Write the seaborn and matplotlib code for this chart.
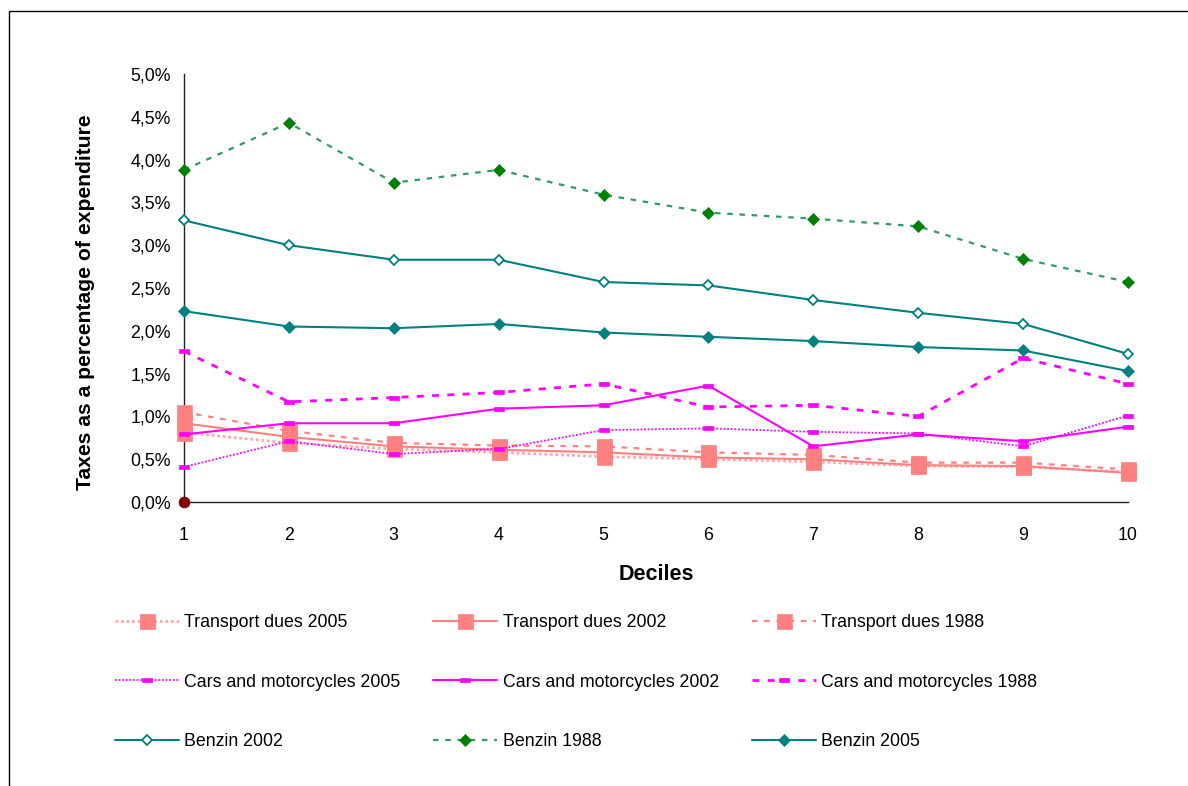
import matplotlib
matplotlib.use("Agg")
import matplotlib.pyplot as plt
from matplotlib.lines import Line2D
from matplotlib.patches import Rectangle
from matplotlib.ticker import FuncFormatter
import seaborn as sns

# Tax burden by expenditure decile (% of household expenditure)
deciles = [1, 2, 3, 4, 5, 6, 7, 8, 9, 10]

transport_2005 = [0.81, 0.69, 0.62, 0.58, 0.53, 0.50, 0.47, 0.42, 0.41, 0.35]
transport_2002 = [0.92, 0.76, 0.65, 0.61, 0.58, 0.52, 0.50, 0.43, 0.42, 0.34]
transport_1988 = [1.05, 0.83, 0.69, 0.66, 0.65, 0.58, 0.55, 0.46, 0.46, 0.38]

cars_2005 = [0.41, 0.71, 0.56, 0.62, 0.84, 0.86, 0.82, 0.80, 0.65, 1.01]
cars_2002 = [0.79, 0.92, 0.92, 1.09, 1.13, 1.36, 0.65, 0.79, 0.71, 0.88]
cars_1988 = [1.76, 1.17, 1.22, 1.28, 1.38, 1.11, 1.13, 1.00, 1.68, 1.38]

benzin_2002 = [3.29, 3.00, 2.83, 2.83, 2.57, 2.53, 2.36, 2.21, 2.08, 1.73]
benzin_1988 = [3.88, 4.43, 3.73, 3.88, 3.59, 3.38, 3.31, 3.22, 2.84, 2.57]
benzin_2005 = [2.23, 2.05, 2.03, 2.08, 1.98, 1.93, 1.88, 1.81, 1.77, 1.53]

origin_x = [1]
origin_y = [0.0]

y_ticks = [0.0, 0.5, 1.0, 1.5, 2.0, 2.5, 3.0, 3.5, 4.0, 4.5, 5.0]

sns.set_theme(style="white")
plt.rcParams["font.family"] = ["Liberation Sans", "DejaVu Sans"]
plt.rcParams["text.color"] = "black"
plt.rcParams["axes.labelcolor"] = "black"

SALMON = "#FF8080"
MAGENTA = "#FF00FF"
TEAL = "#008080"
GREEN = "#008000"
SEA = "#339966"

# short horizontal bar used as the marker for the car series
DASH = [(-1, -0.32), (1, -0.32), (1, 0.32), (-1, 0.32), (-1, -0.32)]

fig = plt.figure(figsize=(11.88, 7.86), dpi=100)
ax = fig.add_axes([184 / 1188, 1 - 502 / 786, 944 / 1188, 428 / 786])

series = [
    # label, values, colour, linestyle, linewidth, marker, size, face, edge
    ("Transport dues 2005", transport_2005, "#FFA8A8", (0, (1, 1)), 2.0, "s", 10.8, SALMON, SALMON),
    ("Transport dues 2002", transport_2002, SALMON, "-", 1.5, "s", 10.8, SALMON, SALMON),
    ("Transport dues 1988", transport_1988, SALMON, (0, (2.5, 3)), 1.6, "s", 10.8, SALMON, SALMON),
    ("Cars and motorcycles 2005", cars_2005, MAGENTA, (0, (1, 1)), 1.3, DASH, 7.2, MAGENTA, MAGENTA),
    ("Cars and motorcycles 2002", cars_2002, MAGENTA, "-", 1.5, DASH, 7.2, MAGENTA, MAGENTA),
    ("Cars and motorcycles 1988", cars_1988, MAGENTA, (0, (2.5, 3)), 2.0, DASH, 7.2, MAGENTA, MAGENTA),
    ("Benzin 2002", benzin_2002, TEAL, "-", 1.5, "D", 5.6, "white", TEAL),
    ("Benzin 1988", benzin_1988, SEA, (0, (2.5, 3)), 1.6, "D", 5.8, GREEN, GREEN),
    ("Benzin 2005", benzin_2005, TEAL, "-", 1.5, "D", 5.8, TEAL, TEAL),
]

handles = {}
for label, vals, col, ls, lw, mk, ms, face, edge in series:
    mew = 1.3 if face == "white" else 0.5
    sns.lineplot(x=deciles, y=vals, ax=ax, color=col, linestyle=ls, linewidth=lw,
                 marker=mk, markersize=ms, markerfacecolor=face,
                 markeredgecolor=edge, markeredgewidth=mew,
                 legend=False, zorder=3, clip_on=False)
    handles[label] = Line2D([], [], color=col, linestyle=ls, linewidth=lw, marker=mk,
                            markersize=ms, markerfacecolor=face, markeredgecolor=edge,
                            markeredgewidth=mew)

sns.scatterplot(x=origin_x, y=origin_y, ax=ax, color="#800000", s=60,
                edgecolor="#800000", zorder=5, clip_on=False, legend=False)

ax.set_xlim(1, 10)
ax.set_ylim(0, 5)
ax.set_xticks(deciles)
ax.set_yticks(y_ticks)
ax.yaxis.set_major_formatter(FuncFormatter(lambda v, p: f"{v:.1f}%".replace(".", ",")))

for side in ("top", "right"):
    ax.spines[side].set_visible(False)
for side in ("left", "bottom"):
    ax.spines[side].set_color("#222222")
    ax.spines[side].set_linewidth(1.0)

ax.tick_params(axis="both", which="major", direction="inout", length=9, width=1,
               color="#222222", labelsize=12.8, labelcolor="black")
ax.tick_params(axis="y", pad=5)
ax.tick_params(axis="x", pad=13.5)

ax.set_xlabel("Deciles", fontsize=15.5, fontweight="bold", color="black")
ax.set_ylabel("Taxes as a percentage of expenditure", fontsize=15.2,
              fontweight="bold", color="black")
ax.xaxis.set_label_coords(0.5, -0.145)
ax.yaxis.set_label_coords(-0.094, 0.468)

# legend laid out row by row: transport, cars, benzin
order = ["Transport dues 2005", "Cars and motorcycles 2005", "Benzin 2002",
         "Transport dues 2002", "Cars and motorcycles 2002", "Benzin 1988",
         "Transport dues 1988", "Cars and motorcycles 1988", "Benzin 2005"]
leg = fig.legend([handles[k] for k in order], order, ncol=3, frameon=False,
                 loc="upper left", bbox_to_anchor=(115 / 1188, 1 - 614 / 786),
                 fontsize=12.8, handlelength=3.6, handletextpad=0.3,
                 columnspacing=1.85, labelspacing=2.4, borderpad=0, borderaxespad=0)
for t in leg.get_texts():
    t.set_color("black")

# outer chart-area border
fig.patches.append(Rectangle((9 / 1188, -0.05), 1.2, 1.05 - 11 / 786,
                             transform=fig.transFigure, fill=False,
                             edgecolor="black", linewidth=1.0))

fig.savefig("out.png", dpi=100)
